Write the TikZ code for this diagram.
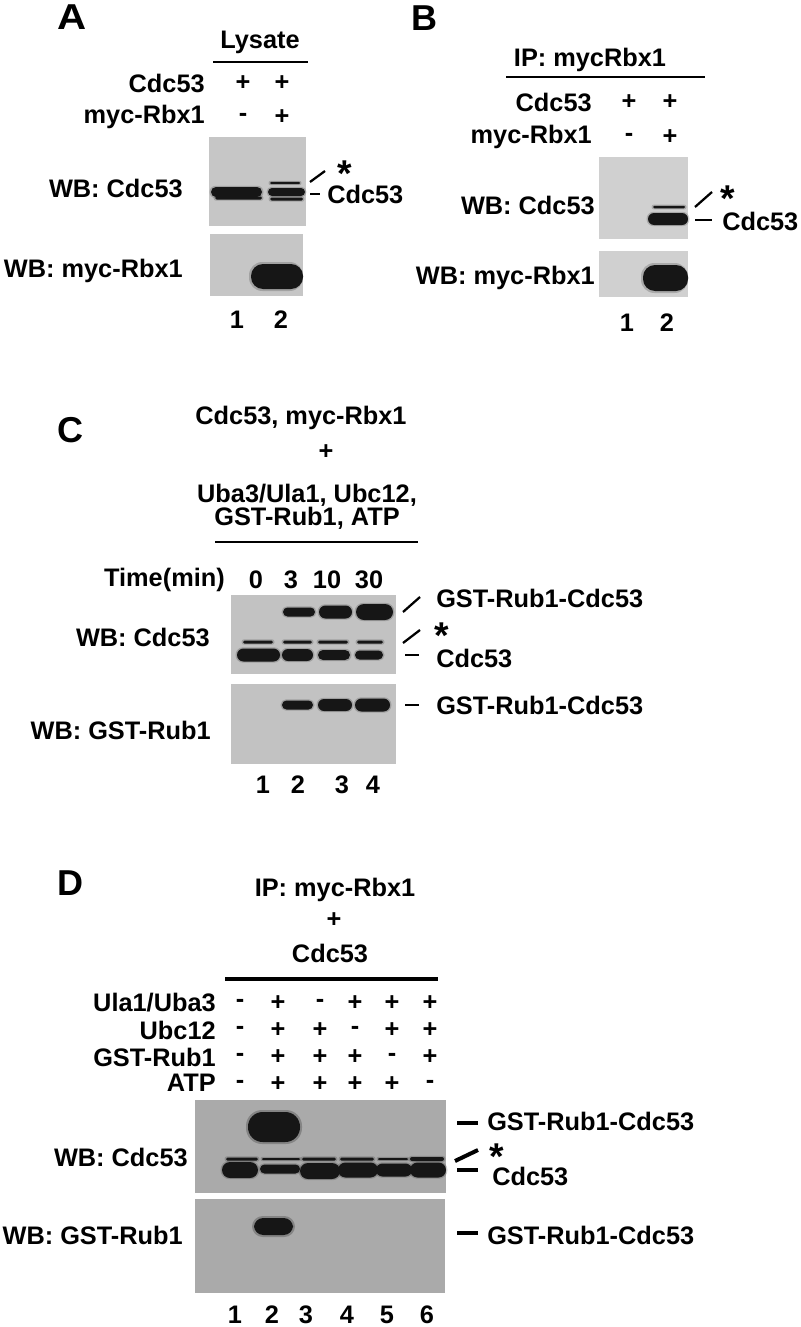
\documentclass[tikz,border=0pt]{standalone}
\usepackage{graphicx}
\usepackage{fontspec}
\setmainfont{Liberation Sans}
\newcommand\wbstar{\raisebox{-0.42em}[0.31em][0pt]{*}}
\begin{document}
\begin{tikzpicture}[x=0.75pt,y=-0.75pt,
  lbl/.style={font=\fontsize{19}{22}\selectfont\bfseries, inner sep=0pt},
  star/.style={font=\fontsize{28}{30}\selectfont\bfseries, inner sep=0pt},
  plbl/.style={font=\fontsize{27}{30}\selectfont\bfseries, inner sep=0pt},
  rule/.style={line width=2.2pt},
  tick/.style={line width=1.7pt},
  btick/.style={line width=3pt}]
\definecolor{bandc}{RGB}{22,22,22}
\definecolor{blotA}{RGB}{198,198,198}
\definecolor{blotB}{RGB}{208,208,208}
\definecolor{blotC}{RGB}{194,194,194}
\definecolor{blotD}{RGB}{170,170,170}
\newcommand\wbband[4]{%
  \pgfmathsetmacro\bhalf{#4/2}%
  \pgfmathsetmacro\brad{min(#4*0.75/2,6)}%
  \pgfmathsetmacro\bradb{\brad+0.8}%
  \fill[bandc,opacity=0.2,rounded corners=\bradb pt] (#1-1.5,#3-\bhalf-1.2) rectangle (#2+1.5,#3+\bhalf+1.2);
  \fill[bandc,rounded corners=\brad pt] (#1,#3-\bhalf) rectangle (#2,#3+\bhalf);
}
\useasboundingbox[fill=white] (0,0) rectangle (800,1327);

% ---------------- Panel A ----------------
\node[plbl] (pA) at (72,17) {\scalebox{1.12}[1]{A}};
\node[lbl] (lys) at (260,42) {Lysate};
\draw[rule] (213,62) -- (308,62);
\node[lbl,anchor=east] (aR1) at (205,83) {Cdc53};
\node[lbl,anchor=east] (aR2) at (205,117) {myc-Rbx1};
\node[lbl] (a11) at (243,83) {+};
\node[lbl] (a12) at (282,83) {+};
\node[lbl] (a21) at (243,117) {-};
\node[lbl] (a22) at (282,117) {+};
\fill[blotA] (209,137) rectangle (306,226);
\wbband{211}{262}{192}{10}
\wbband{215}{262}{198}{3}
\wbband{268}{305}{192}{8}
\wbband{270}{303}{199}{3}
\wbband{270}{300}{183}{2}
\fill[blotA] (210,234) rectangle (303,296);
\fill[bandc,opacity=0.2,rounded corners=10pt] (249,262) rectangle (303,291);
\fill[bandc,rounded corners=9pt] (251,264) rectangle (303,289);
\node[lbl,anchor=east] (aW1) at (183,188) {WB: Cdc53};
\node[lbl,anchor=east] (aW2) at (183,271) {WB: myc-Rbx1};
\node[star] (aS) at (345,165) {\wbstar};
\node[lbl,anchor=west] (aC) at (327,194) {Cdc53};
\draw[tick] (310,182) -- (325,171);
\draw[tick] (310,194) -- (320,194);
\node[lbl] (aL1) at (237,320) {1};
\node[lbl] (aL2) at (281,320) {2};

% ---------------- Panel B ----------------
\node[plbl] (pB) at (424,18) {B};
\node[lbl] (ip) at (590,60) {IP: mycRbx1};
\draw[rule] (506,77) -- (705,77);
\node[lbl,anchor=east] (bR1) at (592,102) {Cdc53};
\node[lbl,anchor=east] (bR2) at (592,137) {myc-Rbx1};
\node[lbl] (b11) at (629,102) {+};
\node[lbl] (b12) at (670,102) {+};
\node[lbl] (b21) at (629,137) {-};
\node[lbl] (b22) at (670,137) {+};
\fill[blotB] (599,157) rectangle (688,239);
\wbband{653}{685}{207}{2.5}
\wbband{648}{688}{219}{12}
\fill[blotB] (599,251) rectangle (688,297);
\fill[bandc,opacity=0.2,rounded corners=10pt] (641,263) rectangle (688,293);
\fill[bandc,rounded corners=9pt] (643,265) rectangle (688,291);
\node[lbl,anchor=east] (bW1) at (595,205) {WB: Cdc53};
\node[lbl,anchor=east] (bW2) at (595,278) {WB: myc-Rbx1};
\node[star] (bS) at (728,190) {\wbstar};
\node[lbl,anchor=west] (bC) at (722,221) {Cdc53};
\draw[tick] (695,207) -- (712,192);
\draw[tick] (695,220) -- (712,220);
\node[lbl] (bL1) at (627,323) {1};
\node[lbl] (bL2) at (667,323) {2};

% ---------------- Panel C ----------------
\node[plbl] (pC) at (70,430) {C};
\node[lbl] (c1) at (301,418) {Cdc53, myc-Rbx1};
\node[lbl] (c2) at (326,452) {+};
\node[lbl] (c3) at (307,495) {Uba3/Ula1, Ubc12,};
\node[lbl] (c4) at (307,518) {GST-Rub1, ATP};
\draw[rule] (215,542) -- (418,542);
\node[lbl,anchor=east] (tm) at (225,580) {Time(min)};
\node[lbl] (t1) at (256,580) {0};
\node[lbl] (t2) at (291,580) {3};
\node[lbl] (t3) at (327,580) {10};
\node[lbl] (t4) at (369,580) {30};
\fill[blotC] (231,595) rectangle (396,674);
\wbband{283}{315}{612}{9}
\wbband{319}{352}{612}{13}
\wbband{356}{393}{612}{16}
\wbband{243}{273}{642}{3}
\wbband{283}{312}{642}{3}
\wbband{318}{348}{642}{3}
\wbband{357}{383}{642}{3}
\wbband{237}{280}{655}{13}
\wbband{282}{313}{655}{12}
\wbband{318}{350}{655}{10}
\wbband{355}{383}{655}{9}
\fill[blotC] (231,684) rectangle (396,764);
\wbband{282}{313}{705}{9}
\wbband{318}{352}{705}{12}
\wbband{355}{390}{705}{13}
\node[lbl,anchor=east] (cW1) at (210,637) {WB: Cdc53};
\node[lbl,anchor=east] (cW2) at (211,730) {WB: GST-Rub1};
\node[lbl,anchor=west] (cG1) at (436,598) {GST-Rub1-Cdc53};
\node[star] (cS) at (442,627) {\wbstar};
\node[lbl,anchor=west] (cC) at (436,658) {Cdc53};
\node[lbl,anchor=west] (cG2) at (436,705) {GST-Rub1-Cdc53};
\draw[tick] (403,612) -- (420,597);
\draw[tick] (403,643) -- (420,630);
\draw[tick] (405,655) -- (419,655);
\draw[tick] (405,705) -- (419,705);
\node[lbl] (cL1) at (263,785) {1};
\node[lbl] (cL2) at (298,785) {2};
\node[lbl] (cL3) at (342,785) {3};
\node[lbl] (cL4) at (373,785) {4};

% ---------------- Panel D ----------------
\node[plbl] (pD) at (70,883) {D};
\node[lbl] (d1) at (335,890) {IP: myc-Rbx1};
\node[lbl] (d2) at (334,920) {+};
\node[lbl] (d3) at (330,953) {Cdc53};
\draw[line width=3pt] (225,979) -- (438,979);
\node[lbl,anchor=east] (dR1) at (216,1003) {Ula1/Uba3};
\node[lbl,anchor=east] (dR2) at (216,1030) {Ubc12};
\node[lbl,anchor=east] (dR3) at (216,1057) {GST-Rub1};
\node[lbl,anchor=east] (dR4) at (216,1083) {ATP};
\foreach \x/\a/\b/\c/\d [count=\i] in {240/-/-/-/-, 278/+/+/+/+, 320/-/+/+/+, 355/+/-/+/+, 392/+/+/-/+, 430/+/+/+/-}{
  \node[lbl] (dA\i) at (\x,1003) {\a};
  \node[lbl] (dB\i) at (\x,1030) {\b};
  \node[lbl] (dC\i) at (\x,1057) {\c};
  \node[lbl] (dD\i) at (\x,1084) {\d};
}
\fill[blotD] (195,1100) rectangle (446,1193);
\fill[bandc,opacity=0.25,rounded corners=12pt] (246,1110) rectangle (302,1144);
\fill[bandc,rounded corners=11pt] (248,1112) rectangle (300,1142);
\wbband{226}{258}{1159}{3}
\wbband{262}{300}{1159}{2}
\wbband{302}{336}{1159}{3}
\wbband{340}{374}{1159}{3}
\wbband{378}{408}{1159}{2}
\wbband{410}{444}{1159}{4}
\wbband{222}{258}{1170}{16}
\wbband{260}{300}{1169}{9}
\wbband{300}{340}{1171}{16}
\wbband{338}{378}{1170}{15}
\wbband{376}{412}{1170}{13}
\wbband{410}{446}{1170}{15}
\fill[blotD] (195,1199) rectangle (445,1293);
\fill[bandc,opacity=0.25,rounded corners=8pt] (252,1216) rectangle (295,1237);
\fill[bandc,rounded corners=7pt] (254,1218) rectangle (293,1235);
\node[lbl,anchor=east] (dW1) at (188,1157) {WB: Cdc53};
\node[lbl,anchor=east] (dW2) at (183,1235) {WB: GST-Rub1};
\node[lbl,anchor=west] (dG1) at (487,1121) {GST-Rub1-Cdc53};
\node[star] (dS) at (497,1148) {\wbstar};
\node[lbl,anchor=west] (dC) at (492,1176) {Cdc53};
\node[lbl,anchor=west] (dG2) at (487,1235) {GST-Rub1-Cdc53};
\draw[btick] (457,1123) -- (478,1123);
\draw[btick] (455,1161) -- (478,1150);
\draw[btick] (457,1170) -- (478,1170);
\draw[btick] (457,1233) -- (478,1233);
\foreach \x [count=\i] in {235,272,306,347,387,427}{
  \node[lbl] (dL\i) at (\x,1315) {\i};
}
\end{tikzpicture}
\end{document}
